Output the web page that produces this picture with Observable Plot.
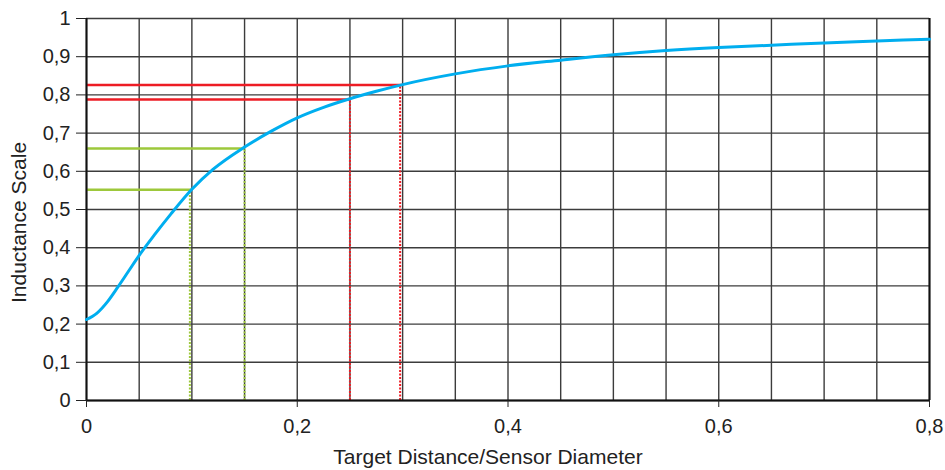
<!DOCTYPE html>
<html><head><meta charset="utf-8">
<script src="https://cdn.jsdelivr.net/npm/d3@7"></script>
<script src="https://cdn.jsdelivr.net/npm/@observablehq/plot@0.6"></script>
<style>body{margin:0;background:#fff}</style>
</head><body><div id="chart"></div>
<script>
// Curve: Target Distance/Sensor Diameter vs Inductance Scale
const curveX = [0, 0.01, 0.02, 0.03, 0.04, 0.05, 0.065, 0.08, 0.1, 0.12, 0.15, 0.175, 0.2, 0.225, 0.25, 0.275, 0.3, 0.35, 0.4, 0.45, 0.5, 0.55, 0.6, 0.65, 0.7, 0.75, 0.8];
const curveY = [0.212, 0.229, 0.259, 0.298, 0.339, 0.380, 0.4355, 0.488, 0.553, 0.605, 0.6635, 0.7045, 0.740, 0.7675, 0.790, 0.8095, 0.827, 0.855, 0.876, 0.891, 0.905, 0.916, 0.924, 0.930, 0.936, 0.941, 0.946];
// reference lines
const redX = [0.3, 0.25];
const redY = [0.826, 0.788];
const greenX = [0.15, 0.1];
const greenY = [0.66, 0.552];
// grid and ticks
const xGrid = [0, 0.05, 0.1, 0.15, 0.2, 0.25, 0.3, 0.35, 0.4, 0.45, 0.5, 0.55, 0.6, 0.65, 0.7, 0.75, 0.8];
const yGrid = [0, 0.1, 0.2, 0.3, 0.4, 0.5, 0.6, 0.7, 0.8, 0.9, 1];
const xTicks = [0, 0.2, 0.4, 0.6, 0.8];
const yTicks = [0, 0.1, 0.2, 0.3, 0.4, 0.5, 0.6, 0.7, 0.8, 0.9, 1];
const xLabel = "Target Distance/Sensor Diameter";
const yLabel = "Inductance Scale";

const curve = curveX.map((x, i) => ({x, y: curveY[i]}));
const red = redX.map((x, i) => ({x, y: redY[i]}));
const green = greenX.map((x, i) => ({x, y: greenY[i]}));
const fmt = d => (d === 0 ? "0" : d === 1 ? "1" : d3.format(".1f")(d).replace(".", ","));

const gridColor = "#3c3c3c";
const chart = Plot.plot({
  width: 945,
  height: 470,
  marginLeft: 86,
  marginRight: 16,
  marginTop: 18,
  marginBottom: 70,
  style: {fontFamily: "'Liberation Sans', Arial, sans-serif", fontSize: "20px", color: "#222", background: "#fff"},
  x: {domain: [0, 0.8]},
  y: {domain: [0, 1]},
  marks: [
    Plot.ruleX(xGrid, {stroke: gridColor, strokeWidth: 1.4}),
    Plot.ruleY(yGrid, {stroke: gridColor, strokeWidth: 1.4}),
    // dotted verticals
    Plot.ruleX(red.filter(d => d.x === 0.3), {x: "x", y1: 0, y2: "y", stroke: "#ED1C24", strokeWidth: 2, strokeDasharray: "2,1.5", dx: -2.5}),
    Plot.ruleX(red.filter(d => d.x !== 0.3), {x: "x", y1: 0, y2: "y", stroke: "#ED1C24", strokeWidth: 2, strokeDasharray: "2,1.5"}),
    Plot.ruleX(green.filter(d => d.x === 0.1), {x: "x", y1: 0, y2: "y", stroke: "#9DC83B", strokeWidth: 2, strokeDasharray: "2,1.5", dx: -2}),
    Plot.ruleX(green.filter(d => d.x !== 0.1), {x: "x", y1: 0, y2: "y", stroke: "#9DC83B", strokeWidth: 2, strokeDasharray: "2,1.5"}),
    // solid horizontals
    Plot.ruleY(red, {y: "y", x1: 0, x2: "x", stroke: "#ED1C24", strokeWidth: 2.5}),
    Plot.ruleY(green, {y: "y", x1: 0, x2: "x", stroke: "#9DC83B", strokeWidth: 2.5}),
    // frame axes
    Plot.ruleX([0, 0.8], {stroke: "#111", strokeWidth: 2}),
    Plot.ruleY([0], {stroke: "#111", strokeWidth: 2}),
    Plot.line(curve, {x: "x", y: "y", stroke: "#00AEEF", strokeWidth: 3, curve: "monotone-x"}),
    Plot.axisY({ticks: yTicks, tickFormat: fmt, tickSize: 10, tickPadding: 6, label: null, fontSize: 20, stroke: "#222"}),
    Plot.axisX({ticks: xTicks, tickFormat: fmt, tickSize: 7, tickPadding: 11, label: null, fontSize: 20, stroke: "#222"}),
    Plot.text([xLabel], {frameAnchor: "bottom", dy: 57, dx: -20, fontSize: 21, fill: "#222", lineAnchor: "middle"}),
    Plot.text([yLabel], {frameAnchor: "left", textAnchor: "middle", lineAnchor: "middle", dx: -67, dy: 13, rotate: -90, fontSize: 21, fill: "#222"})
  ]
});
document.getElementById("chart").appendChild(chart);
</script>
</body></html>
